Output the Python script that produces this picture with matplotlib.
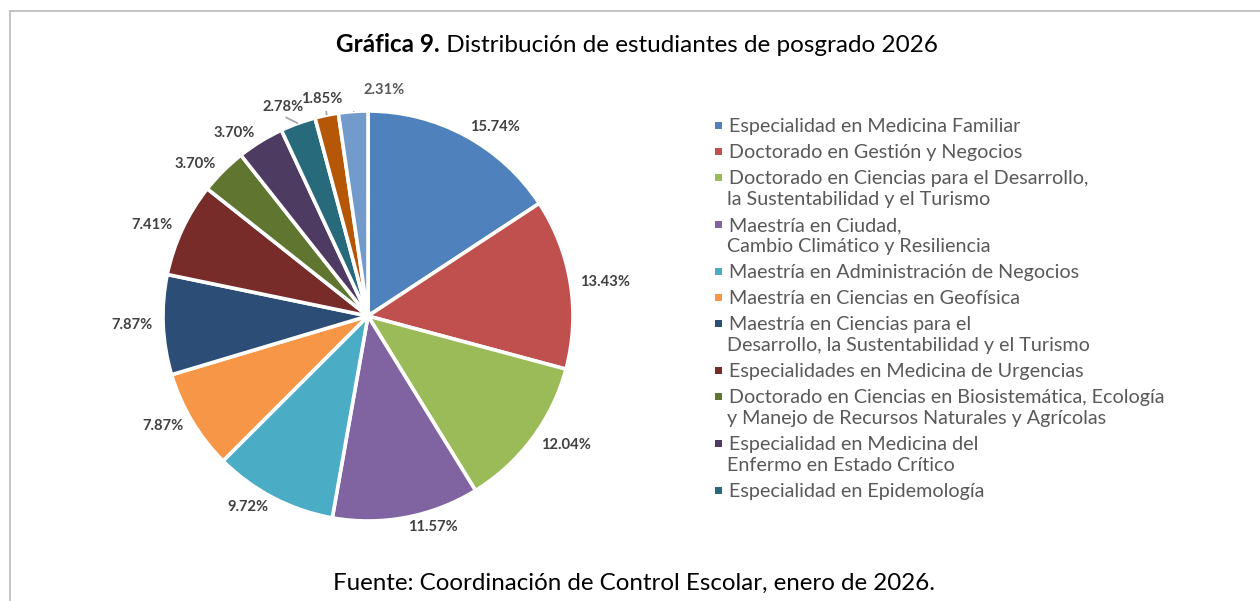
import numpy as np
import matplotlib.pyplot as plt
from matplotlib.lines import Line2D
from matplotlib.patches import Rectangle

plt.rcParams['font.family'] = ['Lato', 'DejaVu Sans']

# Programas de posgrado (orden de la grafica)
programas = [
    'Especialidad en Medicina Familiar',
    'Doctorado en Gestión y Negocios',
    'Doctorado en Ciencias para el Desarrollo,\nla Sustentabilidad y el Turismo',
    'Maestría en Ciudad,\nCambio Climático y Resiliencia',
    'Maestría en Administración de Negocios',
    'Maestría en Ciencias en Geofísica',
    'Maestría en Ciencias para el\nDesarrollo, la Sustentabilidad y el Turismo',
    'Especialidades en Medicina de Urgencias',
    'Doctorado en Ciencias en Biosistemática, Ecología\ny Manejo de Recursos Naturales y Agrícolas',
    'Especialidad en Medicina del\nEnfermo en Estado Crítico',
    'Especialidad en Epidemología',
    'Otro programa 1',
    'Otro programa 2',
]

# Porcentaje de estudiantes por programa
porcentajes = [15.74, 13.43, 12.04, 11.57, 9.72, 7.87, 7.87, 7.41, 3.70, 3.70, 2.78, 1.85, 2.31]

# Numero de programas que aparecen en la leyenda
n_leyenda = 11

colores = ['#4F81BD', '#C0504D', '#9BBB59', '#8064A2', '#4BACC6', '#F79646',
           '#2C4D75', '#772C2A', '#5F7530', '#4D3B62', '#276A7C', '#B65708', '#729ACA']

# etiquetas con linea guia (indice: angulo en grados, distancia relativa)
guias = {10: (112.0, 1.10), 11: (102.0, 1.08), 12: (86.0, 1.105)}

W, H = 1260, 601
fig = plt.figure(figsize=(W / 100, H / 100), dpi=100)

# ejes cuadrados para la pastel
cx, cy, r = 368, 316, 205
ax = fig.add_axes([(cx - r) / W, (H - cy - r) / H, 2 * r / W, 2 * r / H])

etiquetas = [f'{p:.2f}%' if i not in guias else '' for i, p in enumerate(porcentajes)]
wedges, textos = ax.pie(
    porcentajes, colors=colores, startangle=90, counterclock=False,
    labels=etiquetas, labeldistance=1.05,
    wedgeprops=dict(edgecolor='white', linewidth=2.6),
    textprops=dict(fontsize=10.6, fontweight='bold', color='#404040'),
)
ax.set_xlim(-1, 1)
ax.set_ylim(-1, 1)

# etiquetas de las rebanadas pequenas con linea guia
for i, (ang, dist) in guias.items():
    w = wedges[i]
    mid = np.deg2rad((w.theta1 + w.theta2) / 2)
    a = np.deg2rad(ang)
    tx, ty = dist * np.cos(a), dist * np.sin(a)
    ax.text(tx, ty, f'{porcentajes[i]:.2f}%', ha='center', va='center',
            fontsize=10.6, fontweight='bold', color='#404040' if i != 12 else '#595959')
    x0, y0 = 1.0 * np.cos(mid), 1.0 * np.sin(mid)
    if i == 12:
        x1, y1 = tx - 0.09, ty - 0.04
    else:
        x1, y1 = tx + 0.02 * (1 if i == 11 else 0.5), ty - 0.05
    ax.plot([x0, x1], [y0, y1], color='#A6A6A6', lw=1.3, solid_capstyle='butt')

# leyenda (marcador alineado con la primera linea de cada programa)
y = 125
for i in range(n_leyenda):
    lineas = programas[i].split('\n')
    fig.add_artist(Rectangle(((715) / W, 1 - (y + 3.5) / H), 7 / W, 7 / H,
                             transform=fig.transFigure, facecolor=colores[i],
                             edgecolor='none'))
    for k, linea in enumerate(lineas):
        fig.text((729 if k == 0 else 727) / W, 1 - (y + 21 * k) / H, linea,
                 fontsize=14.2, color='#595959', ha='left', va='center_baseline')
    y += 26 + 21 * (len(lineas) - 1)

# titulo con parte en negrita
renderer = fig.canvas.get_renderer()
t1 = fig.text(0, 1 - 52 / H, 'Gráfica 9.', fontsize=17.5, fontweight='bold',
              color='black', va='baseline', ha='left')
t2 = fig.text(0, 1 - 52 / H, ' Distribución de estudiantes de posgrado 2026',
              fontsize=17.5, color='black', va='baseline', ha='left')
w1 = t1.get_window_extent(renderer).width
w2 = t2.get_window_extent(renderer).width
x_ini = 637 - (w1 + w2) / 2
t1.set_x(x_ini / W)
t2.set_x((x_ini + w1) / W)

# fuente
fig.text(634 / W, 1 - 583 / H, 'Fuente: Coordinación de Control Escolar, enero de 2026.',
         fontsize=17.4, color='black', ha='center', va='center')

# marco del grafico
fig.add_artist(Line2D([9.5 / W, 1], [1 - 10.5 / H] * 2, transform=fig.transFigure,
                      color='#BFBFBF', lw=1.3))
fig.add_artist(Line2D([9.5 / W] * 2, [0, 1 - 10.5 / H], transform=fig.transFigure,
                      color='#BFBFBF', lw=1.3))

fig.savefig('out.png', dpi=100)
